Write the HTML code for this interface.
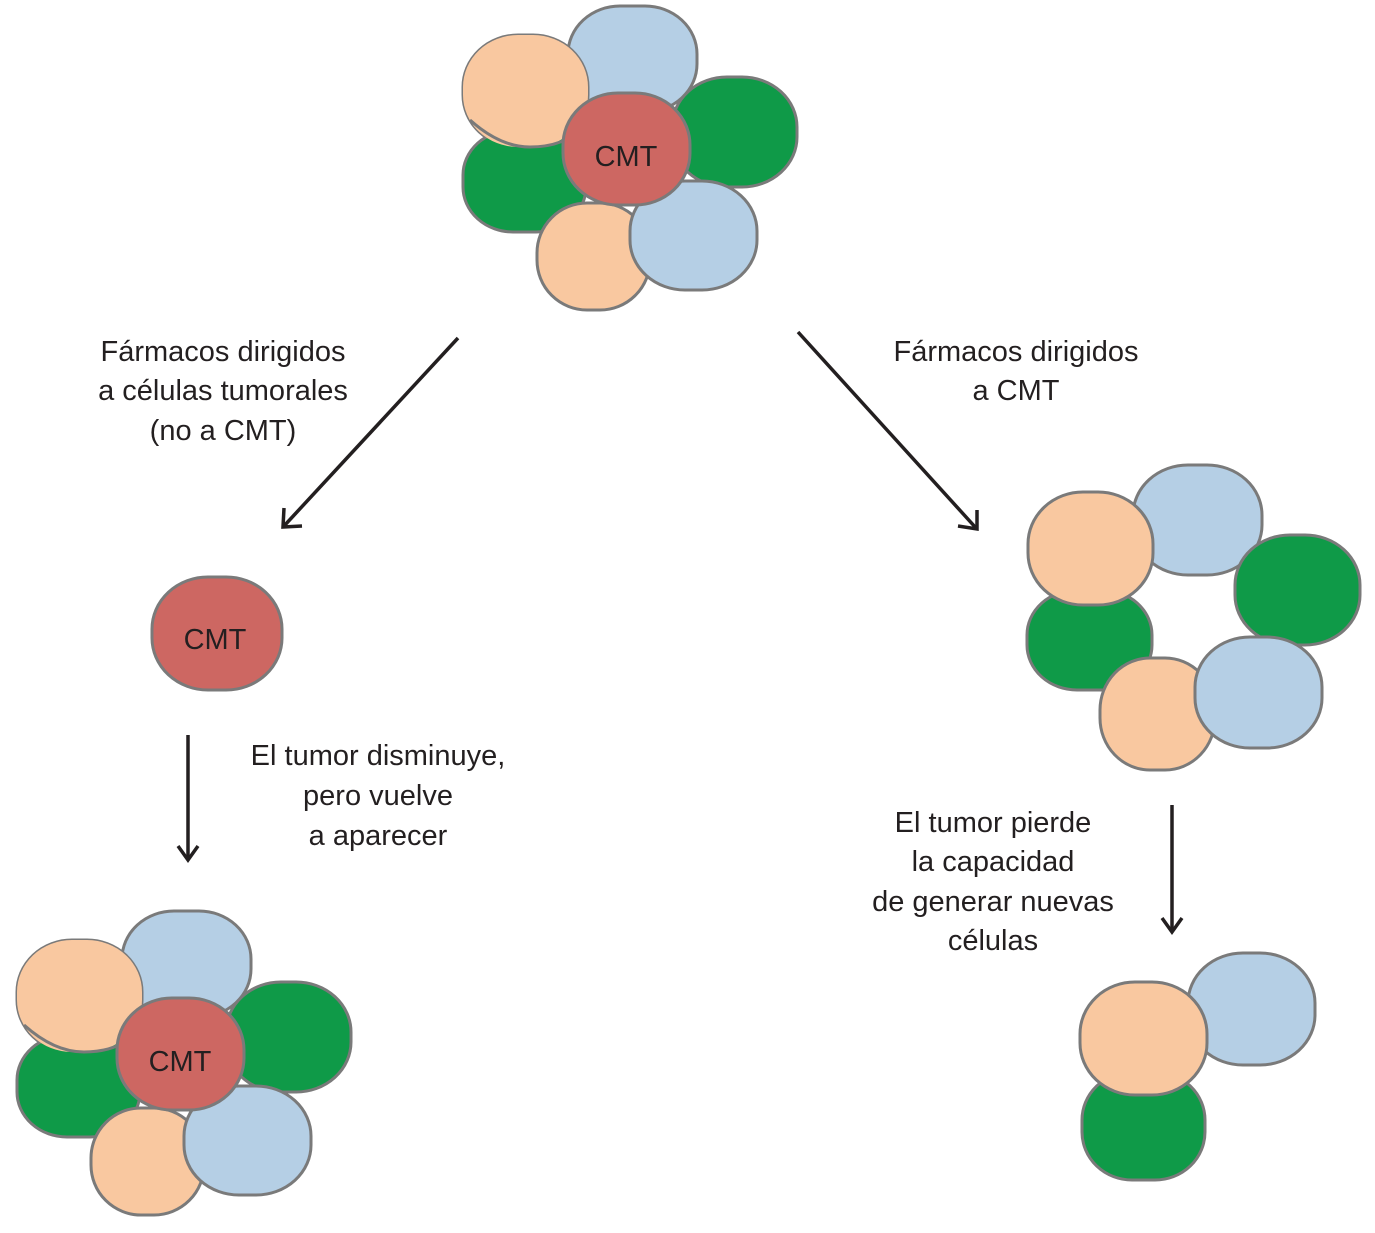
<!DOCTYPE html>
<html><head><meta charset="utf-8"><style>
body{margin:0;background:#fff}
svg{display:block}
text{font-family:"Liberation Sans",sans-serif;font-size:29px;fill:#231f20;text-anchor:middle}
.c{stroke:#7a7a7a;stroke-width:3}
.p{fill:#f9c8a0}.b{fill:#b5cfe5}.g{fill:#0f9a48}.r{fill:#cd6762}
.a{stroke:#231f20;stroke-width:3.5;fill:none}
</style></head><body>
<svg width="1375" height="1233" viewBox="0 0 1375 1233">
<defs>
<g id="cluster">
<rect class="c b" x="568" y="6" width="129" height="106" rx="52" ry="48"/>
<rect class="c p" x="463" y="35" width="125" height="112" rx="55" ry="52"/>
<rect class="c g" x="463" y="130" width="123" height="102" rx="50" ry="45"/>
<rect class="c p" x="463" y="35" width="125" height="112" rx="55" ry="52" style="stroke:none"/>
<path class="c" fill="none" d="M470,120 Q500,147 530,147 Q570,147 588,120"/>
<rect class="c g" x="672" y="77" width="125" height="110" rx="55" ry="50"/>
<rect class="c p" x="537" y="203" width="113" height="107" rx="50" ry="50"/>
<rect class="c b" x="630" y="181" width="127" height="109" rx="55" ry="50"/>
<rect class="c r" x="563" y="93" width="127" height="112" rx="55" ry="52"/>
<text x="626" y="166">CMT</text>
</g>
</defs>
<use href="#cluster"/>
<use href="#cluster" transform="translate(-446,905)"/>

<rect class="c r" x="152" y="577" width="130" height="113" rx="56" ry="52"/>
<text x="215" y="649">CMT</text>

<!-- ring -->
<rect class="c b" x="1133" y="465" width="129" height="110" rx="55" ry="50"/>
<rect class="c g" x="1027" y="590" width="125" height="100" rx="50" ry="45"/>
<rect class="c p" x="1028" y="492" width="125" height="113" rx="55" ry="52"/>
<rect class="c g" x="1235" y="535" width="125" height="110" rx="55" ry="50"/>
<rect class="c p" x="1100" y="658" width="115" height="112" rx="50" ry="52"/>
<rect class="c b" x="1195" y="637" width="127" height="111" rx="55" ry="50"/>

<!-- bottom right -->
<rect class="c b" x="1188" y="953" width="127" height="112" rx="55" ry="50"/>
<rect class="c g" x="1082" y="1072" width="123" height="108" rx="50" ry="48"/>
<rect class="c p" x="1080" y="982" width="127" height="113" rx="55" ry="52"/>

<!-- arrows -->
<line class="a" x1="458" y1="338" x2="284" y2="526"/>
<path class="a" d="M284,508 L283,527 L302,526"/>
<line class="a" x1="798" y1="332" x2="976" y2="528"/>
<path class="a" d="M958,526 L977,529 L977,510"/>
<line class="a" x1="188" y1="735" x2="188" y2="860"/>
<path class="a" d="M178,846 L188,860 L198,846"/>
<line class="a" x1="1172" y1="805" x2="1172" y2="932"/>
<path class="a" d="M1162,918 L1172,932 L1182,918"/>

<text x="223" y="361">Fármacos dirigidos</text>
<text x="223" y="400">a células tumorales</text>
<text x="223" y="440">(no a CMT)</text>
<text x="1016" y="361">Fármacos dirigidos</text>
<text x="1016" y="400">a CMT</text>
<text x="378" y="765">El tumor disminuye,</text>
<text x="378" y="805">pero vuelve</text>
<text x="378" y="845">a aparecer</text>
<text x="993" y="832">El tumor pierde</text>
<text x="993" y="871">la capacidad</text>
<text x="993" y="911">de generar nuevas</text>
<text x="993" y="950">células</text>
</svg>
</body></html>
